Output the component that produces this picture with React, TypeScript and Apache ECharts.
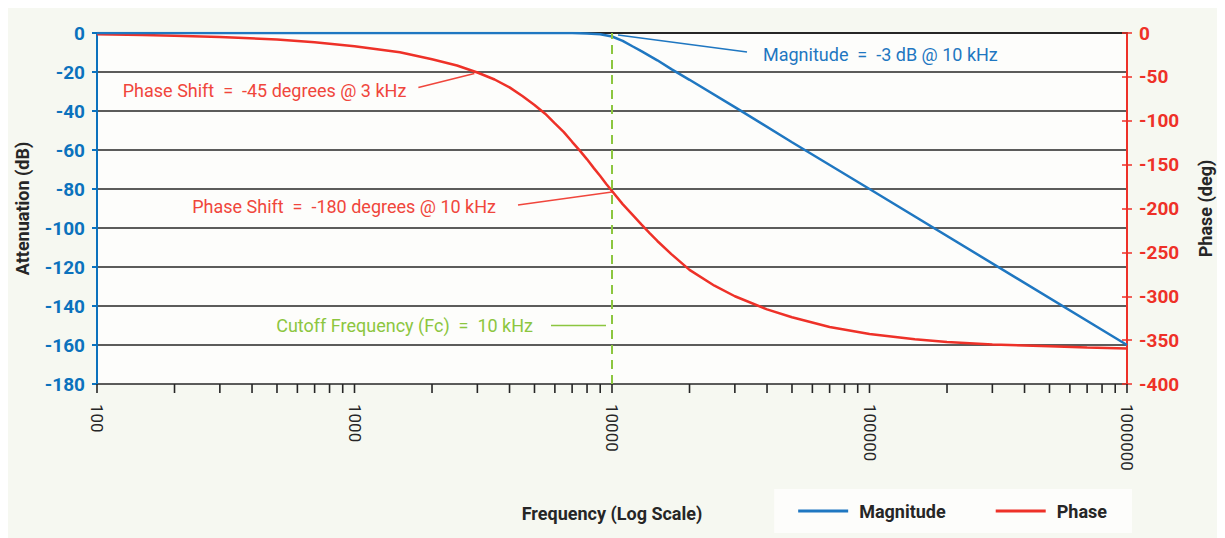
import React, { useEffect, useRef } from "react";
import * as echarts from "echarts";

const magnitudeFreq = [100, 1000, 3000, 5000, 6000, 7000, 8000, 9000, 10000, 11000, 12000, 13000, 15000, 17000, 20000, 30000, 50000, 100000, 1000000];
const magnitudeDb = [0, 0, 0, 0, -0.02, -0.06, -0.2, -0.6, -1.8, -4, -6.8, -9.3, -14, -18.5, -24, -38, -56, -80, -160];
const phaseFreq = [100, 150, 200, 300, 500, 700, 1000, 1500, 2000, 2500, 3000, 3500, 4000, 4500, 5000, 5500, 6000, 6500, 7000, 7500, 8000, 8500, 9000, 9500, 10000, 11000, 12000, 13000, 14000, 15000, 17000, 20000, 25000, 30000, 40000, 50000, 70000, 100000, 150000, 200000, 300000, 500000, 700000, 1000000];
const phaseDeg = [-1.5, -2.2, -3, -4.5, -7.5, -10.5, -15, -22, -30, -37, -45, -53, -62, -72, -82, -92, -103, -113, -124, -134, -144, -154, -163, -172, -180, -195, -207, -218, -228, -237, -252, -270, -288, -300, -315, -324, -335, -343, -349, -352, -355, -357, -358.5, -359.5];
const xLabelValues = [100, 1000, 10000, 100000, 1000000];
const xTickValues = [
  100, 200, 300, 400, 500, 600, 700, 800, 900,
  1000, 2000, 3000, 4000, 5000, 6000, 7000, 8000, 9000,
  10000, 20000, 30000, 40000, 50000, 60000, 70000, 80000, 90000,
  100000, 200000, 300000, 400000, 500000, 600000, 700000, 800000, 900000,
  1000000,
];
const cutoffFrequency = 10000;

const FONT = "Roboto";
const BLUE_AXIS = "#0b72bd";
const BLUE_LINE = "#1f77c1";
const RED = "#ee3128";
const RED_TEXT = "#f0463c";
const GREEN = "#8cc63f";
const DARK = "#262626";

export default function App() {
  const ref = useRef<HTMLDivElement>(null);
  useEffect(() => {
    if (!ref.current) return;
    const chart = echarts.init(ref.current, undefined, { renderer: "svg" });
    const option: any = {
      animation: false,
      backgroundColor: "#f6f8f1",
      textStyle: { fontFamily: FONT },
      grid: {
        left: 92,
        right: 98,
        top: 25,
        bottom: 154,
        show: true,
        backgroundColor: "#fdfdfb",
        borderWidth: 0,
      },
      legend: {
        right: 93,
        bottom: 5,
        backgroundColor: "#fdfdfb",
        padding: [13, 25, 13, 24],
        itemGap: 50,
        itemWidth: 50,
        itemHeight: 3,
        icon: "rect",
        textStyle: { fontFamily: FONT, fontSize: 18, fontWeight: "bold", color: DARK, padding: [0, 0, 0, 6] },
        data: ["Magnitude", "Phase"],
      },
      xAxis: {
        type: "log",
        logBase: 10,
        min: 100,
        max: 1000000,
        name: "Frequency (Log Scale)",
        nameLocation: "middle",
        nameGap: 120,
        nameTextStyle: { fontFamily: FONT, fontSize: 18, fontWeight: "bold", color: DARK },
        axisLine: { show: true, lineStyle: { color: DARK, width: 2 } },
        axisTick: { show: false },
        minorTick: { show: false },
        splitLine: { show: false },
        axisLabel: {
          rotate: -90,
          margin: 20,
          fontFamily: FONT,
          fontSize: 17,
          color: DARK,
          customValues: xLabelValues,
          formatter: (v: number) => String(Math.round(v)),
        },
      },
      yAxis: [
        {
          type: "value",
          position: "left",
          min: -180,
          max: 0,
          interval: 20,
          name: "Attenuation (dB)",
          nameLocation: "middle",
          nameRotate: 90,
          nameGap: 66,
          nameTextStyle: { fontFamily: FONT, fontSize: 18, fontWeight: "bold", color: DARK },
          axisLine: { show: true, lineStyle: { color: BLUE_AXIS, width: 2 } },
          axisTick: { show: true, inside: false, length: 5, lineStyle: { color: BLUE_AXIS, width: 2 } },
          axisLabel: { margin: 12, fontFamily: FONT, fontSize: 19, fontWeight: "bold", color: BLUE_AXIS },
          splitLine: { show: true, lineStyle: { color: DARK, width: 1.6 } },
        },
        {
          type: "value",
          position: "right",
          min: -400,
          max: 0,
          interval: 50,
          name: "Phase (deg)",
          nameLocation: "middle",
          nameRotate: 90,
          nameGap: 69,
          nameTextStyle: { fontFamily: FONT, fontSize: 18, fontWeight: "bold", color: DARK },
          axisLine: { show: true, lineStyle: { color: RED, width: 2 } },
          axisTick: { show: true, inside: false, length: 5, lineStyle: { color: RED, width: 1.5 } },
          axisLabel: { margin: 12, fontFamily: FONT, fontSize: 19, fontWeight: "bold", color: RED },
          splitLine: { show: false },
        },
        {
          type: "value",
          position: "right",
          min: -400,
          max: 0,
          interval: 50,
          axisLine: { show: false },
          axisTick: { show: true, inside: true, length: 5, lineStyle: { color: RED, width: 1.5 } },
          axisLabel: { show: false },
          splitLine: { show: false },
        },
      ],
      series: [
        {
          name: "Magnitude",
          type: "line",
          yAxisIndex: 0,
          data: magnitudeFreq.map((f, i) => [f, magnitudeDb[i]]),
          symbol: "none",
          smooth: false,
          lineStyle: { color: BLUE_LINE, width: 2.5 },
          itemStyle: { color: BLUE_LINE },
          z: 4,
          markLine: {
            silent: true,
            symbol: "none",
            label: { show: false },
            lineStyle: { color: GREEN, width: 2, type: [9, 6] },
            data: [{ xAxis: cutoffFrequency }],
          },
        },
        {
          name: "Phase",
          type: "line",
          yAxisIndex: 1,
          data: phaseFreq.map((f, i) => [f, phaseDeg[i]]),
          symbol: "none",
          smooth: false,
          lineStyle: { color: RED, width: 2.5 },
          itemStyle: { color: RED },
          z: 3,
        },
        {
          name: "xTicks",
          type: "custom",
          coordinateSystem: "cartesian2d",
          yAxisIndex: 0,
          clip: false,
          silent: true,
          data: xTickValues.map((v) => [v, -180]),
          renderItem: (_params: any, api: any) => {
            const p = api.coord([api.value(0), api.value(1)]);
            return {
              type: "line",
              shape: { x1: p[0], y1: p[1], x2: p[0], y2: p[1] + 9 },
              style: { stroke: DARK, lineWidth: 1.6 },
            };
          },
          z: 5,
        },
      ],
    };
    chart.setOption(option);

    const pMag = chart.convertToPixel({ xAxisIndex: 0, yAxisIndex: 0 }, [cutoffFrequency, magnitudeDb[magnitudeFreq.indexOf(cutoffFrequency)]]) as number[];
    const p45 = chart.convertToPixel({ xAxisIndex: 0, yAxisIndex: 1 }, [3000, -45]) as number[];
    const p180 = chart.convertToPixel({ xAxisIndex: 0, yAxisIndex: 1 }, [cutoffFrequency, -180]) as number[];
    const pFc = chart.convertToPixel({ xAxisIndex: 0, yAxisIndex: 0 }, [cutoffFrequency, -150]) as number[];

    const annFont = (color: string, align: string) => ({
      fontFamily: FONT,
      fontSize: 18,
      fill: color,
      textAlign: align,
      textVerticalAlign: "middle",
    });

    chart.setOption({
      graphic: [
        { type: "line", shape: { x1: pMag[0] + 6, y1: pMag[1] - 1.5, x2: pMag[0] + 135, y2: pMag[1] + 15.5 }, style: { stroke: BLUE_LINE, lineWidth: 1.5 } },
        { type: "text", x: pMag[0] + 151, y: pMag[1] + 17.5, style: { text: "Magnitude  =  -3 dB @ 10 kHz", ...annFont(BLUE_LINE, "left") } },
        { type: "line", shape: { x1: p45[0] - 3, y1: p45[1] + 1, x2: p45[0] - 59, y2: p45[1] + 15 }, style: { stroke: RED_TEXT, lineWidth: 1.5 } },
        { type: "text", x: p45[0] - 71, y: p45[1] + 18, style: { text: "Phase Shift  =  -45 degrees @ 3 kHz", ...annFont(RED_TEXT, "right") } },
        { type: "line", shape: { x1: p180[0], y1: p180[1] + 1, x2: p180[0] - 94, y2: p180[1] + 14 }, style: { stroke: RED_TEXT, lineWidth: 1.5 } },
        { type: "text", x: p180[0] - 116, y: p180[1] + 16, style: { text: "Phase Shift  =  -180 degrees @ 10 kHz", ...annFont(RED_TEXT, "right") } },
        { type: "line", shape: { x1: pFc[0] - 6, y1: pFc[1], x2: pFc[0] - 61, y2: pFc[1] }, style: { stroke: GREEN, lineWidth: 1.5 } },
        { type: "text", x: pFc[0] - 79, y: pFc[1], style: { text: "Cutoff Frequency (Fc)  =  10 kHz", ...annFont(GREEN, "right") } },
      ],
    });

    return () => chart.dispose();
  }, []);
  return <div ref={ref} style={{ width: 1220, height: 530, marginLeft: -3 }} />;
}
